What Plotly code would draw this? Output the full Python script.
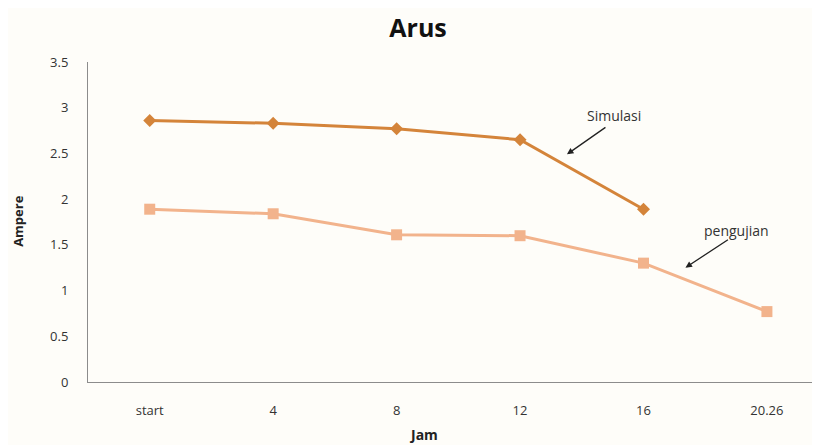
import plotly.graph_objects as go

categories = ["start", "4", "8", "12", "16", "20.26"]
simulasi = [2.86, 2.83, 2.77, 2.65, 1.89]
pengujian = [1.89, 1.84, 1.61, 1.60, 1.30, 0.77]
y_ticks = [0, 0.5, 1, 1.5, 2, 2.5, 3, 3.5]
y_ticktext = ["0", "0.5", "1", "1.5", "2", "2.5", "3", "3.5"]

font_fam = "Open Sans, Liberation Sans, sans-serif"

fig = go.Figure()
fig.add_trace(go.Scatter(
    x=categories[:len(simulasi)], y=simulasi, mode="lines+markers", name="Simulasi",
    line=dict(color="#D4843A", width=3),
    marker=dict(symbol="diamond", size=10, color="#D4843A"),
))
fig.add_trace(go.Scatter(
    x=categories, y=pengujian, mode="lines+markers", name="pengujian",
    line=dict(color="#F2B38C", width=3),
    marker=dict(symbol="square", size=11, color="#F2B38C"),
))

fig.update_layout(
    width=812, height=437,
    margin=dict(l=80, r=0, t=54, b=63, autoexpand=False),
    paper_bgcolor="#FEFDF9", plot_bgcolor="#FEFDF9",
    showlegend=False,
    title=dict(text="<b>Arus</b>", x=0.505, xanchor="center", y=0.953, yanchor="middle",
               font=dict(family=font_fam, size=25, color="#111111")),
    font=dict(family=font_fam, size=13, color="#333333"),
)
fig.update_xaxes(
    type="category", categoryorder="array", categoryarray=categories,
    range=[-0.5, 5.43], showgrid=False, showline=True, linecolor="#8C8C8C", linewidth=1,
    ticks="", tickfont=dict(size=13, color="#333333"), ticklabelstandoff=16,
    zeroline=False, automargin=False,
)
fig.update_yaxes(
    range=[0, 3.5], tickvals=y_ticks, ticktext=y_ticktext, showgrid=False,
    showline=True, linecolor="#8C8C8C", linewidth=1, ticks="",
    tickfont=dict(size=13, color="#333333"), ticklabelstandoff=16, zeroline=False,
    automargin=False,
)

fig.add_annotation(text="<b>Jam</b>", xref="paper", yref="paper", x=0.459, y=-0.163,
                   xanchor="center", yanchor="middle", showarrow=False,
                   font=dict(size=14, color="#222222"))
fig.add_annotation(text="<b>Ampere</b>", xref="paper", x=-0.095, xanchor="center",
                   yref="paper", y=0.505, yanchor="middle", textangle=-90, showarrow=False,
                   font=dict(size=13, color="#222222"))
fig.add_annotation(x=3.38, y=2.49, ax=40, ay=-28, text="", showarrow=True, arrowhead=2,
                   arrowsize=1, arrowwidth=1.3, arrowcolor="#222222")
fig.add_annotation(x=3.76, y=2.91, text="Simulasi", showarrow=False,
                   font=dict(size=14, color="#333333"))
fig.add_annotation(x=4.34, y=1.25, ax=44, ay=-29, text="", showarrow=True, arrowhead=2,
                   arrowsize=1, arrowwidth=1.3, arrowcolor="#222222")
fig.add_annotation(x=4.75, y=1.66, text="pengujian", showarrow=False,
                   font=dict(size=14, color="#333333"))

fig.write_html("out.html")
